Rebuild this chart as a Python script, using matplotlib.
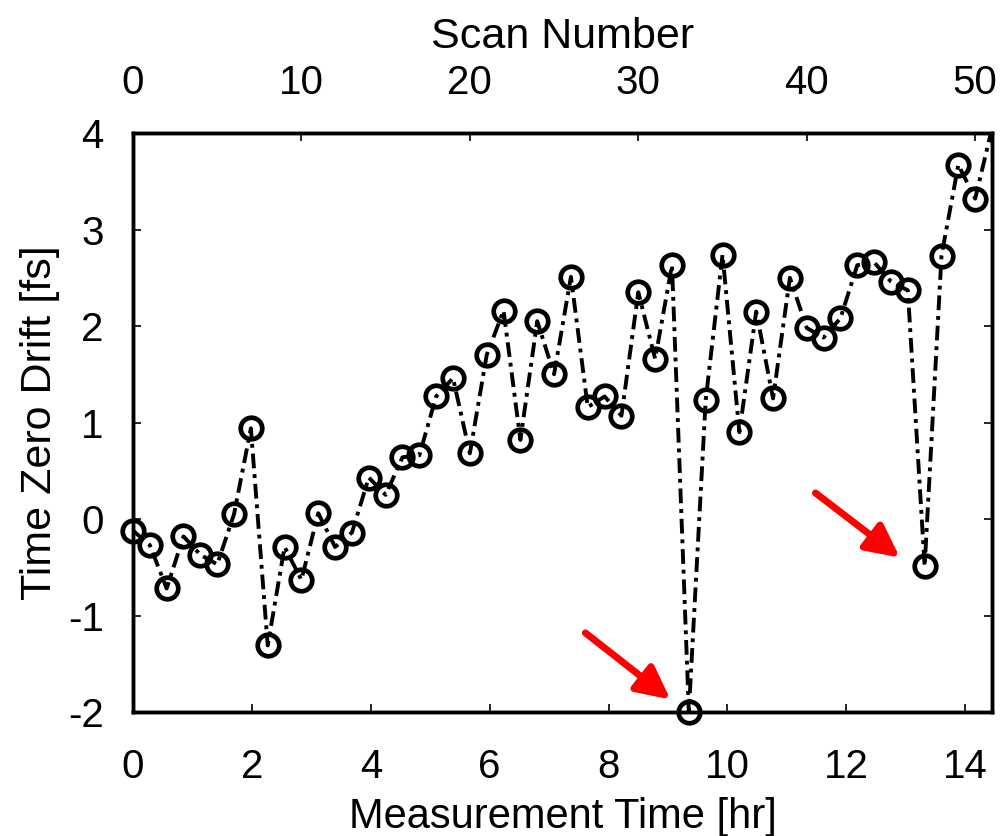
import numpy as np
import matplotlib
matplotlib.use('Agg')
import matplotlib.pyplot as plt

plt.rcParams['font.family'] = ['Liberation Sans', 'DejaVu Sans']
plt.rcParams['axes.unicode_minus'] = False

# time-zero drift per scan (scan 51 lies just above the plotted range)
scan = np.arange(52)
drift = [-0.12, -0.27, -0.72, -0.18, -0.37, -0.47, 0.05, 0.94, -1.31, -0.29,
         -0.63, 0.06, -0.29, -0.14, 0.43, 0.25, 0.64, 0.66, 1.27, 1.46,
         0.68, 1.70, 2.16, 0.82, 2.05, 1.50, 2.51, 1.16, 1.27, 1.07,
         2.35, 1.66, 2.63, -2.00, 1.23, 2.74, 0.90, 2.15, 1.25, 2.50,
         1.98, 1.88, 2.08, 2.63, 2.66, 2.46, 2.37, -0.49, 2.73, 3.67,
         3.32, 4.05]
hr_per_scan = 17.0 / 60.0
n_scans = 51

# red arrows pointing at the two outliers: (tail, tip) in (hr, fs)
arrows = [((7.61, -1.18), (9.04, -1.87)),
          ((11.48, 0.27), (12.90, -0.40))]

fs = 29


def main():
    fig = plt.figure(figsize=(10.05, 8.36), dpi=100)
    ax = fig.add_axes([0.1323, 0.1483, 0.8548, 0.6926])

    t = scan * hr_per_scan
    d = np.array(drift)
    inside = d <= 4.0

    ax.plot(t, d, color='black', lw=2.8, dashes=(3.8, 1.5, 1.0, 1.5),
            dash_capstyle='butt')
    ax.plot(t[inside], d[inside], 'o', ms=15.5, mfc='none', mec='black',
            mew=3.4, clip_on=False, zorder=3)

    for tail, tip in arrows:
        ax.annotate('', xy=tip, xytext=tail,
                    arrowprops=dict(arrowstyle='-|>,head_length=1.0,head_width=0.5',
                                    color='red', lw=5, mutation_scale=20,
                                    shrinkA=0, shrinkB=0))

    ax.set_xlim(0, n_scans * hr_per_scan)
    ax.set_ylim(-2, 4)
    ax.set_xticks(np.arange(0, 15, 2))
    ax.set_yticks(np.arange(-2, 5, 1))
    ax.tick_params(direction='in', length=6, width=1.2, labelsize=fs,
                   top=False, right=True)
    ax.tick_params(axis='x', pad=26)
    ax.tick_params(axis='y', pad=21)
    ax.set_xlabel('Measurement Time [hr]', fontsize=30, labelpad=8)
    ax.set_ylabel('Time Zero Drift [fs]', fontsize=31, labelpad=6)

    ax2 = ax.twiny()
    ax2.set_xlim(0, n_scans)
    ax2.set_xticks(np.arange(0, 51, 10))
    ax2.tick_params(direction='in', length=6, width=1.2, labelsize=fs, pad=22)
    ax2.set_xlabel('Scan Number', fontsize=31, labelpad=12)

    for a in (ax, ax2):
        for s in a.spines.values():
            s.set_linewidth(2.5)

    fig.savefig('out.png', dpi=100)


if __name__ == '__main__':
    main()
